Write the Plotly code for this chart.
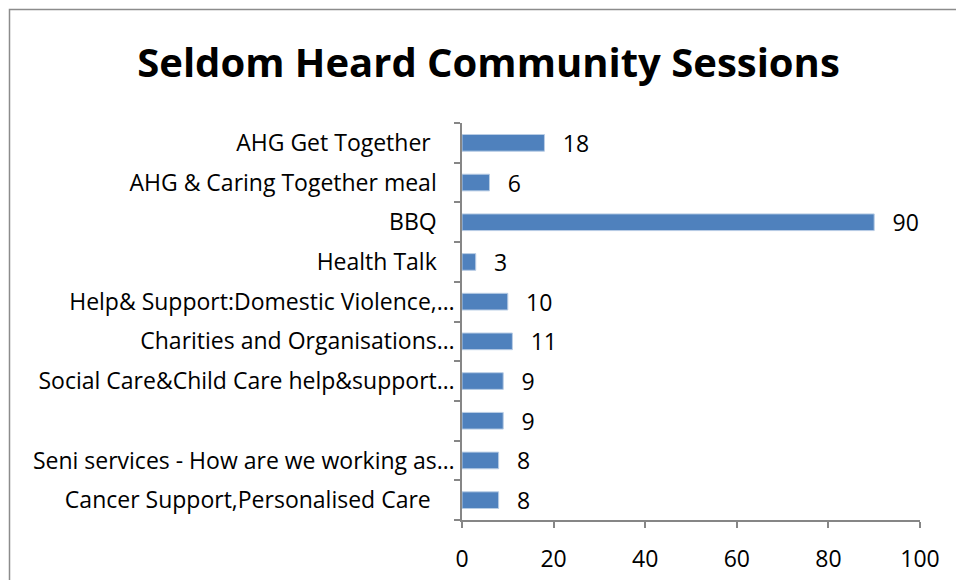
import plotly.graph_objects as go

# Session names (top to bottom) and attendance counts
sessions = [
    "AHG Get Together ",
    "AHG & Caring Together meal",
    "BBQ",
    "Health Talk",
    "Help& Support:Domestic Violence,…",
    "Charities and Organisations…",
    "Social Care&Child Care help&support…",
    " ",
    "Seni services - How are we working as…",
    "Cancer Support,Personalised Care ",
]
attendance = [18, 6, 90, 3, 10, 11, 9, 9, 8, 8]

x_ticks = [0, 20, 40, 60, 80, 100]

FONT = "Open Sans, sans-serif"
BAR = "#4F81BD"
AXIS = "#868686"

# Full labels sit a little further from the axis than truncated ones
label_text = [s if s.endswith("…") else s + "\u00a0" * 3 for s in sessions]

fig = go.Figure(
    go.Bar(
        x=attendance,
        y=sessions,
        orientation="h",
        marker=dict(color=BAR, line=dict(color="#B9CDE5", width=1)),
        width=0.42,
        text=attendance,
        texttemplate="\u2002\u2009%{x}",
        textposition="outside",
        constraintext="none",
        textfont=dict(family=FONT, size=23, color="#000000"),
        cliponaxis=False,
        hoverinfo="skip",
    )
)

fig.update_layout(
    width=956,
    height=580,
    paper_bgcolor="white",
    plot_bgcolor="white",
    margin=dict(l=462, r=36, t=123, b=60),
    showlegend=False,
    title=dict(
        text="<b>Seldom Heard Community Sessions</b>",
        x=0.511,
        xanchor="center",
        y=0.892,
        yanchor="middle",
        font=dict(family=FONT, size=40, color="#000000"),
    ),
    shapes=[
        dict(
            type="rect",
            xref="paper",
            yref="paper",
            x0=-462 / 458 + 9.5 / 458,
            x1=1.2,
            y0=-0.3,
            y1=1 + 113.5 / 397,
            line=dict(color="#8C8C8C", width=1.5),
            fillcolor="rgba(0,0,0,0)",
            layer="below",
        )
    ],
)

fig.update_xaxes(
    range=[0, 100],
    tickvals=x_ticks,
    ticktext=[str(v) for v in x_ticks],
    automargin=False,
    showgrid=False,
    zeroline=False,
    showline=True,
    linecolor=AXIS,
    linewidth=1.5,
    ticks="outside",
    ticklen=6,
    tickcolor=AXIS,
    tickwidth=1.5,
    ticklabelstandoff=12,
    tickfont=dict(family=FONT, size=23, color="#000000"),
)

fig.update_yaxes(
    type="category",
    categoryorder="array",
    categoryarray=sessions,
    tickvals=sessions,
    ticktext=label_text,
    autorange="reversed",
    automargin=False,
    showgrid=False,
    zeroline=False,
    showline=True,
    linecolor=AXIS,
    linewidth=1.5,
    ticks="outside",
    tickson="boundaries",
    ticklen=6,
    tickcolor=AXIS,
    tickwidth=1.5,
    ticklabelstandoff=1,
    tickfont=dict(family=FONT, size=23, color="#000000"),
)

fig.write_html("out.html")
